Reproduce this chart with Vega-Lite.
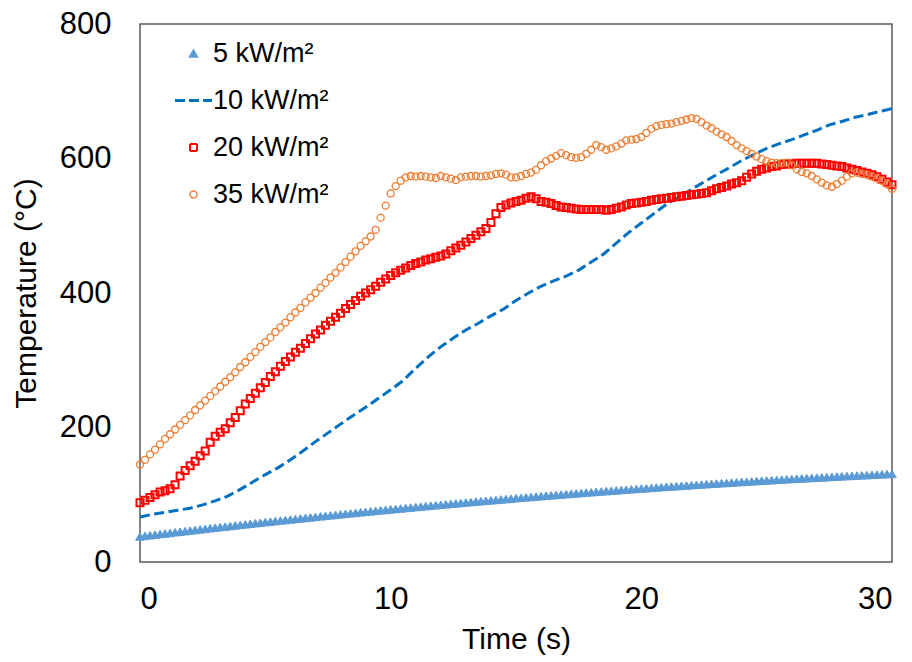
{
  "$schema": "https://vega.github.io/schema/vega-lite/v6.json",
  "width": 752,
  "height": 538,
  "autosize": "none",
  "padding": {"left": 140, "top": 24, "right": 20, "bottom": 100},
  "background": "white",
  "datasets": {
    "curves": [
      {"t":0,"a":38.0,"c":88,"d":145},{"t":0.2,"a":38.9,"c":92,"d":152},{"t":0.4,"a":39.8,"c":96,"d":160},{"t":0.6,"a":40.7,"c":100,"d":167},{"t":0.8,"a":41.6,"c":104,"d":175},
      {"t":1.0,"a":42.4,"c":106,"d":183},{"t":1.2,"a":43.3,"c":109,"d":190},{"t":1.4,"a":44.2,"c":115,"d":197},{"t":1.6,"a":45.1,"c":128,"d":204},{"t":1.8,"a":45.9,"c":136,"d":211},
      {"t":2.0,"a":46.8,"c":143,"d":218},{"t":2.2,"a":47.6,"c":150,"d":226},{"t":2.4,"a":48.5,"c":158,"d":233},{"t":2.6,"a":49.3,"c":165,"d":240},{"t":2.8,"a":50.2,"c":178,"d":247},
      {"t":3.0,"a":51.0,"c":187,"d":254},{"t":3.2,"a":51.9,"c":193,"d":261},{"t":3.4,"a":52.7,"c":198,"d":268},{"t":3.6,"a":53.5,"c":207,"d":275},{"t":3.8,"a":54.4,"c":215,"d":282},
      {"t":4.0,"a":55.2,"c":225,"d":290},{"t":4.2,"a":56.0,"c":235,"d":297},{"t":4.4,"a":56.8,"c":243,"d":305},{"t":4.6,"a":57.6,"c":251,"d":312},{"t":4.8,"a":58.4,"c":259,"d":320},
      {"t":5.0,"a":59.3,"c":267,"d":327},{"t":5.2,"a":60.1,"c":276,"d":334},{"t":5.4,"a":60.9,"c":283,"d":342},{"t":5.6,"a":61.6,"c":291,"d":349},{"t":5.8,"a":62.4,"c":298,"d":356},
      {"t":6.0,"a":63.2,"c":305,"d":364},{"t":6.2,"a":64.0,"c":312,"d":371},{"t":6.4,"a":64.8,"c":318,"d":378},{"t":6.6,"a":65.6,"c":325,"d":386},{"t":6.8,"a":66.3,"c":332,"d":393},
      {"t":7.0,"a":67.1,"c":339,"d":400},{"t":7.2,"a":67.9,"c":345,"d":408},{"t":7.4,"a":68.6,"c":352,"d":415},{"t":7.6,"a":69.4,"c":358,"d":423},{"t":7.8,"a":70.1,"c":364,"d":430},
      {"t":8.0,"a":70.9,"c":370,"d":438},{"t":8.2,"a":71.6,"c":377,"d":446},{"t":8.4,"a":72.4,"c":383,"d":454},{"t":8.6,"a":73.1,"c":389,"d":462},{"t":8.8,"a":73.9,"c":395,"d":470},
      {"t":9.0,"a":74.6,"c":400,"d":477},{"t":9.2,"a":75.3,"c":405,"d":484},{"t":9.4,"a":76.0,"c":410,"d":494},{"t":9.6,"a":76.8,"c":416,"d":512},{"t":9.8,"a":77.5,"c":421,"d":530},
      {"t":10.0,"a":78.2,"c":426,"d":548},{"t":10.2,"a":78.9,"c":430,"d":559},{"t":10.4,"a":79.6,"c":434,"d":567},{"t":10.6,"a":80.3,"c":437,"d":572},{"t":10.8,"a":81.0,"c":441,"d":574},
      {"t":11.0,"a":81.7,"c":444,"d":573},{"t":11.2,"a":82.4,"c":446,"d":574},{"t":11.4,"a":83.1,"c":449,"d":573},{"t":11.6,"a":83.8,"c":451,"d":572},{"t":11.8,"a":84.5,"c":453,"d":571},
      {"t":12.0,"a":85.1,"c":455,"d":574},{"t":12.2,"a":85.8,"c":458,"d":572},{"t":12.4,"a":86.5,"c":463,"d":570},{"t":12.6,"a":87.1,"c":467,"d":568},{"t":12.8,"a":87.8,"c":471,"d":572},
      {"t":13.0,"a":88.5,"c":476,"d":573},{"t":13.2,"a":89.1,"c":481,"d":574},{"t":13.4,"a":89.8,"c":486,"d":574},{"t":13.6,"a":90.4,"c":491,"d":573},{"t":13.8,"a":91.1,"c":496,"d":574},
      {"t":14.0,"a":91.7,"c":505,"d":575},{"t":14.2,"a":92.3,"c":518,"d":577},{"t":14.4,"a":93.0,"c":527,"d":578},{"t":14.6,"a":93.6,"c":531,"d":576},{"t":14.8,"a":94.2,"c":534,"d":572},
      {"t":15.0,"a":94.9,"c":536,"d":572},{"t":15.2,"a":95.5,"c":538,"d":574},{"t":15.4,"a":96.1,"c":541,"d":577},{"t":15.6,"a":96.7,"c":543,"d":579},{"t":15.8,"a":97.3,"c":540,"d":583},
      {"t":16.0,"a":97.9,"c":536,"d":590},{"t":16.2,"a":98.5,"c":535,"d":596},{"t":16.4,"a":99.1,"c":533,"d":600},{"t":16.6,"a":99.7,"c":530,"d":604},{"t":16.8,"a":100.3,"c":528,"d":608},
      {"t":17.0,"a":100.9,"c":527,"d":605},{"t":17.2,"a":101.4,"c":526,"d":602},{"t":17.4,"a":102.0,"c":525,"d":601},{"t":17.6,"a":102.6,"c":524,"d":602},{"t":17.8,"a":103.2,"c":524,"d":607},
      {"t":18.0,"a":103.7,"c":524,"d":613},{"t":18.2,"a":104.3,"c":524,"d":620},{"t":18.4,"a":104.9,"c":524,"d":617},{"t":18.6,"a":105.4,"c":523,"d":613},{"t":18.8,"a":106.0,"c":524,"d":615},
      {"t":19.0,"a":106.5,"c":526,"d":618},{"t":19.2,"a":107.1,"c":528,"d":622},{"t":19.4,"a":107.6,"c":531,"d":627},{"t":19.6,"a":108.1,"c":533,"d":628},{"t":19.8,"a":108.7,"c":534,"d":629},
      {"t":20.0,"a":109.2,"c":535,"d":632},{"t":20.2,"a":109.7,"c":536,"d":638},{"t":20.4,"a":110.2,"c":538,"d":644},{"t":20.6,"a":110.8,"c":539,"d":648},{"t":20.8,"a":111.3,"c":540,"d":650},
      {"t":21.0,"a":111.8,"c":541,"d":651},{"t":21.2,"a":112.3,"c":542,"d":652},{"t":21.4,"a":112.8,"c":543,"d":654},{"t":21.6,"a":113.3,"c":544,"d":656},{"t":21.8,"a":113.8,"c":545,"d":658},
      {"t":22.0,"a":114.3,"c":546,"d":660},{"t":22.2,"a":114.8,"c":547,"d":659},{"t":22.4,"a":115.3,"c":548,"d":654},{"t":22.6,"a":115.8,"c":549,"d":649},{"t":22.8,"a":116.2,"c":552,"d":645},
      {"t":23.0,"a":116.7,"c":555,"d":640},{"t":23.2,"a":117.2,"c":557,"d":636},{"t":23.4,"a":117.6,"c":559,"d":632},{"t":23.6,"a":118.1,"c":562,"d":626},{"t":23.8,"a":118.6,"c":564,"d":620},
      {"t":24.0,"a":119.0,"c":567,"d":615},{"t":24.2,"a":119.5,"c":572,"d":611},{"t":24.4,"a":119.9,"c":577,"d":607},{"t":24.6,"a":120.4,"c":581,"d":603},{"t":24.8,"a":120.8,"c":584,"d":599},
      {"t":25.0,"a":121.3,"c":586,"d":596},{"t":25.2,"a":121.7,"c":588,"d":594},{"t":25.4,"a":122.1,"c":589,"d":593},{"t":25.6,"a":122.5,"c":591,"d":593},{"t":25.8,"a":123.0,"c":592,"d":594},
      {"t":26.0,"a":123.4,"c":592,"d":590},{"t":26.2,"a":123.8,"c":593,"d":584},{"t":26.4,"a":124.2,"c":593,"d":580},{"t":26.6,"a":124.6,"c":593,"d":578},{"t":26.8,"a":125.0,"c":593,"d":574},
      {"t":27.0,"a":125.4,"c":593,"d":569},{"t":27.2,"a":125.8,"c":592,"d":564},{"t":27.4,"a":126.2,"c":591,"d":560},{"t":27.6,"a":126.6,"c":590,"d":558},{"t":27.8,"a":127.0,"c":589,"d":562},
      {"t":28.0,"a":127.4,"c":588,"d":567},{"t":28.2,"a":127.8,"c":586,"d":573},{"t":28.4,"a":128.1,"c":584,"d":578},{"t":28.6,"a":128.5,"c":582,"d":579},{"t":28.8,"a":128.9,"c":580,"d":577},
      {"t":29.0,"a":129.2,"c":578,"d":576},{"t":29.2,"a":129.6,"c":576,"d":573},{"t":29.4,"a":130.0,"c":573,"d":570},{"t":29.6,"a":130.3,"c":569,"d":567},{"t":29.8,"a":130.7,"c":565,"d":562},
      {"t":30.0,"a":131.0,"c":561,"d":555}
    ],
    "flux10": [
      {"t":0,"v":67},{"t":0.5,"v":71},{"t":1,"v":74},{"t":1.5,"v":77},{"t":2,"v":80},{"t":2.5,"v":85},{"t":3,"v":91},{"t":3.5,"v":98},
      {"t":4,"v":108},{"t":4.5,"v":119},{"t":5,"v":130},{"t":5.5,"v":140},{"t":6,"v":152},{"t":6.5,"v":165},{"t":7,"v":179},{"t":7.5,"v":192},
      {"t":8,"v":205},{"t":8.5,"v":218},{"t":9,"v":230},{"t":9.5,"v":243},{"t":10,"v":256},{"t":10.5,"v":270},{"t":11,"v":288},{"t":11.5,"v":305},
      {"t":12,"v":320},{"t":12.5,"v":333},{"t":13,"v":345},{"t":13.5,"v":355},{"t":14,"v":366},{"t":14.5,"v":376},{"t":15,"v":389},{"t":15.5,"v":400},
      {"t":16,"v":410},{"t":16.5,"v":418},{"t":17,"v":425},{"t":17.5,"v":434},{"t":18,"v":446},{"t":18.5,"v":458},{"t":19,"v":474},{"t":19.5,"v":490},
      {"t":20,"v":504},{"t":20.5,"v":518},{"t":21,"v":532},{"t":21.5,"v":543},{"t":22,"v":554},{"t":22.5,"v":565},{"t":23,"v":576},{"t":23.5,"v":586},
      {"t":24,"v":597},{"t":24.5,"v":606},{"t":25,"v":615},{"t":25.5,"v":622},{"t":26,"v":628},{"t":26.5,"v":635},{"t":27,"v":642},{"t":27.5,"v":650},
      {"t":28,"v":655},{"t":28.5,"v":661},{"t":29,"v":665},{"t":29.5,"v":670},{"t":30,"v":674}
    ]
  },
  "encoding": {
    "x": {
      "field": "t", "type": "quantitative",
      "scale": {"domain": [0, 30], "nice": false},
      "axis": {"title": "Time (s)", "values": [0, 10, 20, 30], "labelPadding": 22, "titlePadding": 10}
    }
  },
  "layer": [
    {
      "data": {"name": "curves"},
      "mark": {"type": "point", "shape": "triangle-up", "filled": false, "fill": "#5B9BD5", "strokeWidth": 1, "size": 75, "opacity": 1},
      "encoding": {
        "y": {"field": "a", "type": "quantitative", "scale": {"domain": [0, 800], "nice": false},
              "axis": {"title": "Temperature (°C)", "values": [0, 200, 400, 600, 800], "labelPadding": 29, "titlePadding": 18}},
        "color": {"datum": "5 kW/m²", "type": "nominal",
          "scale": {"domain": ["5 kW/m²", "10 kW/m²", "20 kW/m²", "35 kW/m²"], "range": ["#5B9BD5", "#0070C0", "#FF0000", "#ED7D31"]},
          "legend": {
            "orient": "none", "legendX": 40, "legendY": 16, "title": null, "padding": 0,
            "labelFontSize": 27, "labelColor": "#000000", "labelOffset": 6, "rowPadding": 19,
            "symbolSize": 1369,
            "encoding": {
              "symbols": {
                "shape": {"value": {"expr": "datum.value === '5 kW/m²' ? 'triangle-up' : datum.value === '10 kW/m²' ? 'stroke' : datum.value === '20 kW/m²' ? 'square' : 'circle'"}},
                "size": {"value": {"expr": "datum.value === '10 kW/m²' ? 1369 : datum.value === '5 kW/m²' ? 70 : 49"}},
                "fill": {"value": {"expr": "datum.value === '5 kW/m²' ? '#5B9BD5' : 'transparent'"}},
                "strokeWidth": {"value": {"expr": "datum.value === '20 kW/m²' ? 2 : datum.value === '10 kW/m²' ? 3 : 1.3"}},
                "strokeDash": {"value": {"expr": "datum.value === '10 kW/m²' ? [10, 4] : [1, 0]"}},
                "opacity": {"value": 1}
              }
            }
          }
        }
      }
    },
    {
      "data": {"name": "flux10"},
      "mark": {"type": "line", "strokeWidth": 3, "strokeDash": [10, 4.5]},
      "encoding": {
        "y": {"field": "v", "type": "quantitative"},
        "color": {"datum": "10 kW/m²", "type": "nominal", "legend": null}
      }
    },
    {
      "data": {"name": "curves"},
      "mark": {"type": "point", "shape": "square", "filled": false, "size": 49, "strokeWidth": 2, "opacity": 1},
      "encoding": {
        "y": {"field": "c", "type": "quantitative"},
        "color": {"datum": "20 kW/m²", "type": "nominal", "legend": null}
      }
    },
    {
      "data": {"name": "curves"},
      "mark": {"type": "point", "shape": "circle", "filled": false, "size": 49, "strokeWidth": 1.3, "opacity": 1},
      "encoding": {
        "y": {"field": "d", "type": "quantitative"},
        "color": {"datum": "35 kW/m²", "type": "nominal", "legend": null}
      }
    }
  ],
  "config": {
    "font": "Liberation Sans",
    "view": {"stroke": "#595959", "strokeWidth": 1.5},
    "axis": {
      "grid": false, "ticks": false, "tickSize": 0, "domain": false,
      "labelFontSize": 31, "titleFontSize": 30, "titleFontWeight": "normal",
      "labelColor": "#000000", "titleColor": "#000000", "labelFont": "Liberation Sans", "titleFont": "Liberation Sans"
    },
    "legend": {"labelFont": "Liberation Sans"}
  }
}
